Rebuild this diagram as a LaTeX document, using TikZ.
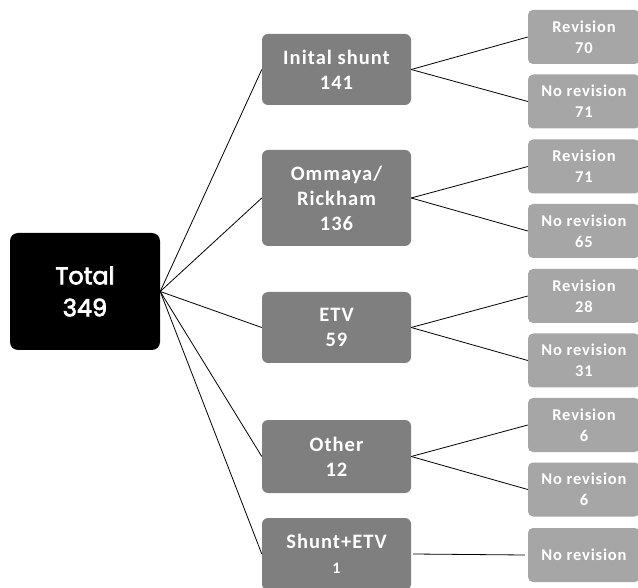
\documentclass[tikz,border=0pt]{standalone}
\usepackage{fontspec}
\setmainfont[LetterSpace=5]{Carlito}
\newfontfamily\totalfont{Poppins}
\newcommand{\strokeon}{\special{pdf:literal direct 2 Tr 0.7 w 1 1 1 RG}}
\newcommand{\strokeoff}{\special{pdf:literal direct 0 Tr}}
\definecolor{midgray}{HTML}{7F7F7F}
\definecolor{lightgray}{HTML}{A6A6A6}
\begin{document}
\begin{tikzpicture}[x=1pt,y=-1pt,
  totalbox/.style={fill=black,rounded corners=8pt,minimum width=150pt,minimum height=117pt,inner sep=0pt,text=white,align=center,font=\totalfont\fontsize{24}{32}\selectfont},
  midbox/.style={fill=midgray,rounded corners=6pt,minimum width=149pt,inner sep=0pt,text=white,align=center,font=\bfseries\fontsize{20.5}{25}\selectfont},
  leafbox/.style={fill=lightgray,rounded corners=5pt,minimum width=112pt,minimum height=54pt,inner sep=0pt,text=white,align=center,font=\bfseries\fontsize{16.5}{21}\selectfont},
  conn/.style={draw=black,line width=0.8pt}]
\useasboundingbox (0,0) rectangle (638,588);
\fill[white] (0,0) rectangle (638,588);
\node[totalbox] (total) at (85,291.5) {\strokeon Total\strokeoff\\\strokeon 349\strokeoff};
\node[midbox,minimum height=71pt] (m1) at (336.5,69.5) {Inital shunt\\141};
\node[midbox,minimum height=96pt] (m2) at (336.5,198) {Ommaya/\\Rickham\\136};
\node[midbox,minimum height=71pt] (m3) at (336.5,327.5) {ETV\\59};
\node[midbox,minimum height=73pt] (m4) at (336.5,456.5) {Other\\12};
\node[midbox,minimum height=72pt] (m5) at (336.5,554) {Shunt+ETV\\{\fontsize{16}{20}\selectfont 1}};
\node[leafbox] (l1) at (584,37) {Revision\\70};
\node[leafbox] (l2) at (584,101.5) {No revision\\71};
\node[leafbox] (l3) at (584,166.5) {Revision\\71};
\node[leafbox] (l4) at (584,231) {No revision\\65};
\node[leafbox] (l5) at (584,296) {Revision\\28};
\node[leafbox] (l6) at (584,360.5) {No revision\\31};
\node[leafbox] (l7) at (584,425) {Revision\\6};
\node[leafbox] (l8) at (584,489.5) {No revision\\6};
\node[leafbox] (l9) at (584,555) {No revision};
\foreach \m in {m1,m2,m3,m4,m5} \draw[conn] (total.east) -- (\m.west);
\draw[conn] (m1.east) -- (l1.west);
\draw[conn] (m1.east) -- (l2.west);
\draw[conn] (m2.east) -- (l3.west);
\draw[conn] (m2.east) -- (l4.west);
\draw[conn] (m3.east) -- (l5.west);
\draw[conn] (m3.east) -- (l6.west);
\draw[conn] (m4.east) -- (l7.west);
\draw[conn] (m4.east) -- (l8.west);
\draw[conn] ([xshift=2pt]m5.east) -- ([xshift=-3pt]l9.west);
\end{tikzpicture}
\end{document}
